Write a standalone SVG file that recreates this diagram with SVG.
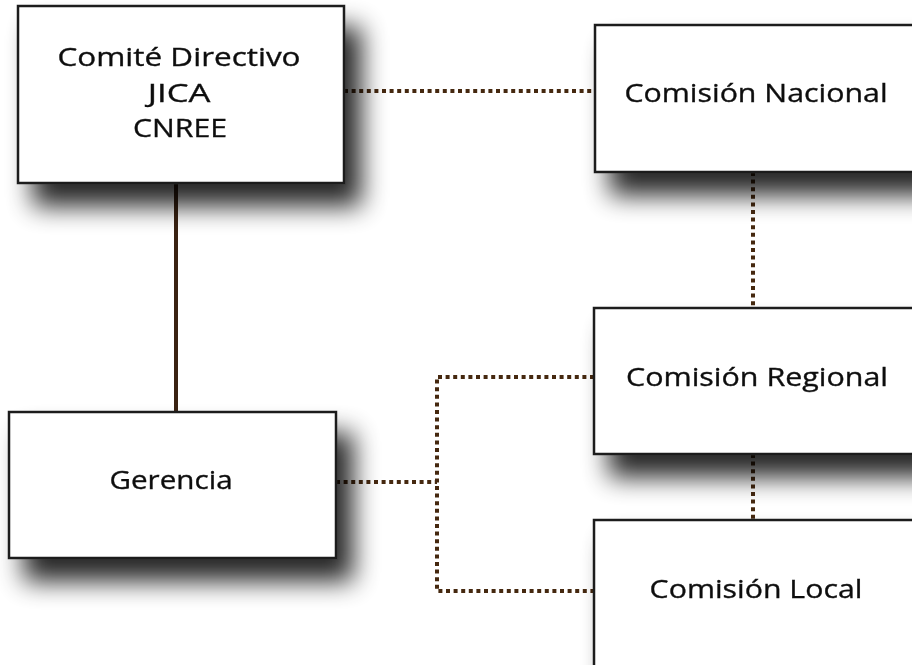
<svg xmlns="http://www.w3.org/2000/svg" width="912" height="665" viewBox="0 0 912 665">
<defs>
<filter id="sh" x="-20%" y="-30%" width="160%" height="190%">
<feGaussianBlur in="SourceAlpha" stdDeviation="13"/>
<feOffset dx="16" dy="22" result="b"/>
<feComponentTransfer><feFuncA type="linear" slope="0.85"/></feComponentTransfer>
<feMerge><feMergeNode/><feMergeNode in="SourceGraphic"/></feMerge>
</filter>
</defs>
<style>
.box{fill:#fff;stroke:#1a1a1a;stroke-width:2.5}
.t{font-family:"Open Sans","Noto Sans",sans-serif;font-size:26px;fill:#111;stroke:#111;stroke-width:0.35;text-anchor:middle}
.solid{stroke:#3a2212;stroke-width:4;fill:none}
.dot{stroke:#45280f;stroke-width:4;fill:none;stroke-dasharray:4 3.6}
</style>
<rect width="912" height="665" fill="#fff"/>
<g id="connectors">
<line class="solid" x1="176" y1="184" x2="176" y2="412"/>
<line class="dot" x1="344" y1="91" x2="595" y2="91"/>
<line class="dot" x1="753" y1="172" x2="753" y2="308"/>
<line class="dot" x1="753" y1="454" x2="753" y2="520"/>
<line class="dot" x1="336" y1="482" x2="437" y2="482"/>
<polyline class="dot" points="594,377 437,377 437,591 594,591"/>
</g>
<g id="comite" filter="url(#sh)">
<rect class="box" x="18" y="6" width="326" height="177"/>
<text class="t" transform="translate(179 66) scale(1.12 1)" textLength="217" lengthAdjust="spacingAndGlyphs">Comité Directivo</text>
<text class="t" transform="translate(179 102) scale(1.12 1)" textLength="56" lengthAdjust="spacingAndGlyphs">JICA</text>
<text class="t" transform="translate(180 137) scale(1.12 1)" textLength="84" lengthAdjust="spacingAndGlyphs">CNREE</text>
</g>
<g id="nacional" filter="url(#sh)">
<rect class="box" x="595" y="25" width="330" height="147"/>
<text class="t" transform="translate(756 102) scale(1.12 1)" textLength="235" lengthAdjust="spacingAndGlyphs">Comisión Nacional</text>
</g>
<g id="regional" filter="url(#sh)">
<rect class="box" x="594" y="308" width="330" height="146"/>
<text class="t" transform="translate(757 386) scale(1.12 1)" textLength="234" lengthAdjust="spacingAndGlyphs">Comisión Regional</text>
</g>
<g id="local" filter="url(#sh)">
<rect class="box" x="594" y="520" width="330" height="180"/>
<text class="t" transform="translate(756 598) scale(1.12 1)" textLength="190" lengthAdjust="spacingAndGlyphs">Comisión Local</text>
</g>
<g id="gerencia" filter="url(#sh)">
<rect class="box" x="9" y="412" width="327" height="146"/>
<text class="t" transform="translate(171 489) scale(1.12 1)" textLength="110" lengthAdjust="spacingAndGlyphs">Gerencia</text>
</g>
</svg>
